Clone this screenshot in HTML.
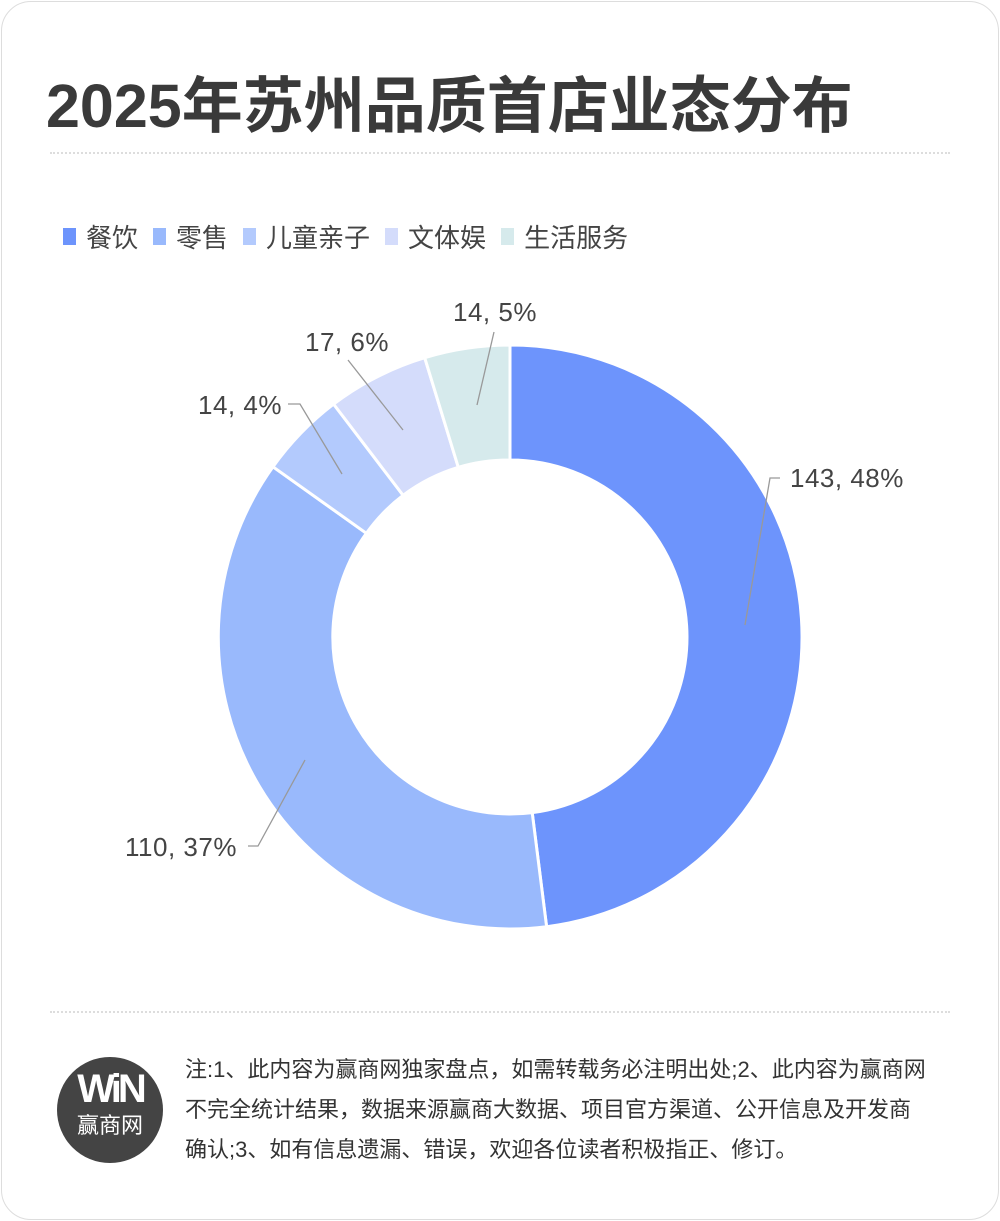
<!DOCTYPE html>
<html><head><meta charset="utf-8"><style>
body{margin:0;background:#fff;width:1000px;height:1221px;overflow:hidden;font-family:"Liberation Sans","Noto Sans CJK SC",sans-serif;}
.card{position:absolute;left:1px;top:1px;width:996px;height:1217px;border:1px solid #ddd;border-radius:30px;}
.t{position:absolute;left:46px;top:56px;font-size:61px;font-weight:bold;color:#3a3a3a;}
.dash{position:absolute;left:50px;width:900px;border-top:2px dotted #ddd;}
.leg{position:absolute;top:218px;left:63px;font-size:26px;color:#444;display:flex;align-items:center;}
.leg span{display:inline-block;width:13px;height:17px;margin-right:10px;margin-left:15px}
.note{position:absolute;left:185px;top:1050px;font-size:22px;line-height:40px;color:#333;width:750px;}
.logo{position:absolute;left:57px;top:1057px;width:106px;height:106px;border-radius:50%;background:#444;color:#fff;text-align:center;}
</style></head><body>
<div class="card"></div>
<div class="t">2025年苏州品质首店业态分布</div>
<div class="dash" style="top:152px"></div>
<div class="leg"><span style="background:#6d94fc;margin-left:0"></span>餐饮<span style="background:#99b9fc"></span>零售<span style="background:#b3cafd"></span>儿童亲子<span style="background:#d4dcfb"></span>文体娱<span style="background:#d6eaec"></span>生活服务</div>
<svg width="1000" height="1221" style="position:absolute;left:0;top:0" font-family="Liberation Sans, Noto Sans CJK SC, sans-serif">
<g stroke="#fff" stroke-width="3">
<path d="M510,345 A292,292 0 0 1 546.6,926.7 L532.2,812.6 A177,177 0 0 0 510,460 Z" fill="#6d94fc"/>
<path d="M546.6,926.7 A292,292 0 0 1 273.0,466.8 L366.4,533.3 A177,177 0 0 0 532.2,812.6 Z" fill="#99b9fc"/>
<path d="M273.0,466.8 A292,292 0 0 1 333.6,404.1 L403.1,495.3 A177,177 0 0 0 366.4,533.3 Z" fill="#b3cafd"/>
<path d="M333.6,404.1 A292,292 0 0 1 424.7,357.7 L458.3,467.3 A177,177 0 0 0 403.1,495.3 Z" fill="#d4dcfb"/>
<path d="M424.7,357.7 A292,292 0 0 1 510,345 L510,460 A177,177 0 0 0 458.3,467.3 Z" fill="#d6eaec"/>
</g>
<g stroke="#999" stroke-width="1.3" fill="none">
<polyline points="745,625 770,478 780,478"/>
<polyline points="305,760 258,846 248,846"/>
<polyline points="342,474 300,404 288,404"/>
<polyline points="403,430 348,360"/>
<polyline points="477,405 494,332"/>
</g>
<g font-size="26" fill="#444" letter-spacing="0.5">
<text x="790" y="487">143, 48%</text>
<text x="125" y="856">110, 37%</text>
<text x="198" y="414">14, 4%</text>
<text x="305" y="351">17, 6%</text>
<text x="453" y="321">14, 5%</text>
</g>
</svg>
<div class="dash" style="top:1011px"></div>
<div class="logo"><div style="font-size:40px;font-weight:bold;margin-top:10px;letter-spacing:-4px">WiN</div><div style="font-size:22px;margin-top:-4px">赢商网</div></div>
<div class="note">注:1、此内容为赢商网独家盘点，如需转载务必注明出处;2、此内容为赢商网<br>不完全统计结果，数据来源赢商大数据、项目官方渠道、公开信息及开发商<br>确认;3、如有信息遗漏、错误，欢迎各位读者积极指正、修订。</div>
</body></html>
